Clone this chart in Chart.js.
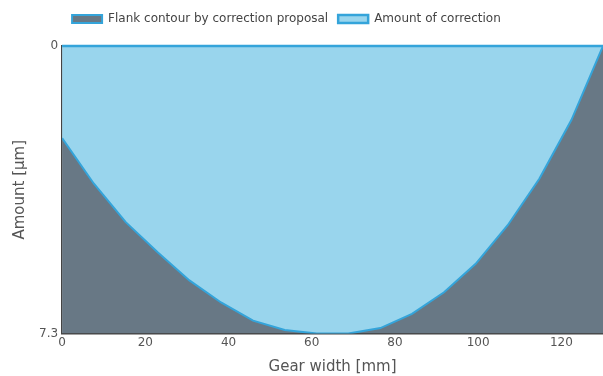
<!DOCTYPE html>
<html>
<head>
<meta charset="utf-8">
<script src="https://cdn.jsdelivr.net/npm/chart.js@4"></script>
<style>
  html, body { margin: 0; padding: 0; background: #fff; }
  #wrap { width: 603px; height: 376px; }
</style>
</head>
<body>
<div id="wrap"><canvas id="c"></canvas></div>
<script>
// gear width positions [mm]
const gearWidth = [0, 7.6, 15.3, 22.9, 30.6, 38.2, 45.9, 53.5, 61.2, 68.8, 76.5, 84.1, 91.8, 99.4, 107.1, 114.7, 122.4, 130];
// flank contour by correction proposal [µm]
const flankContour = [2.34, 3.49, 4.47, 5.23, 5.95, 6.51, 6.97, 7.21, 7.3, 7.3, 7.16, 6.8, 6.25, 5.53, 4.55, 3.37, 1.88, 0];
// zero reference line
const zeroLine = [0, 0, 0, 0, 0, 0, 0, 0, 0, 0, 0, 0, 0, 0, 0, 0, 0, 0];
const yTicks = [0, 7.3];
const xTicks = [0, 20, 40, 60, 80, 100, 120];

const lineBlue = 'rgb(52, 164, 218)';
const greyFill = 'rgb(104, 120, 133)';
const lightBlue = 'rgb(153, 213, 237)';

Chart.defaults.font.family = '"DejaVu Sans", Verdana, sans-serif';
Chart.defaults.color = '#555';

// extra space under the legend
const legendGap = {
    id: 'legendGap',
    beforeInit(chart) {
        const fit = chart.legend.fit;
        chart.legend.fit = function () {
            fit.bind(chart.legend)();
            this.height += 11;
        };
    }
};

new Chart(document.getElementById('c'), {
    type: 'line',
    data: {
        datasets: [{
            label: 'Flank contour by correction proposal',
            data: gearWidth.map((x, i) => ({ x: x, y: flankContour[i] })),
            borderColor: lineBlue,
            backgroundColor: greyFill,
            borderWidth: 2,
            pointRadius: 0,
            fill: { value: 7.3 }
        }, {
            label: 'Amount of correction',
            data: gearWidth.map((x, i) => ({ x: x, y: zeroLine[i] })),
            borderColor: lineBlue,
            backgroundColor: lightBlue,
            borderWidth: 2.5,
            pointRadius: 0,
            clip: 3,
            fill: '-1'
        }]
    },
    options: {
        responsive: true,
        maintainAspectRatio: false,
        animation: false,
        layout: { padding: { left: 7, right: 0, top: 3, bottom: 0 } },
        plugins: {
            legend: {
                position: 'top',
                align: 'start',
                fullSize: false,
                labels: {
                    boxWidth: 30,
                    boxHeight: 8,
                    padding: 10,
                    color: '#444',
                    font: { size: 12 }
                }
            },
            tooltip: { enabled: false }
        },
        scales: {
            x: {
                type: 'linear',
                min: 0,
                max: 130,
                afterBuildTicks: (axis) => { axis.ticks = xTicks.map(v => ({ value: v })); },
                grid: { color: 'rgba(0,0,0,0.07)', drawTicks: false },
                border: { color: '#444', width: 1.5 },
                ticks: { padding: 2, color: '#555', font: { size: 12 } },
                title: { display: true, text: 'Gear width [mm]', color: '#555', font: { size: 15 }, padding: { top: 6, bottom: 0 } }
            },
            y: {
                reverse: true,
                min: 0,
                max: 7.3,
                afterBuildTicks: (axis) => { axis.ticks = yTicks.map(v => ({ value: v })); },
                grid: { display: false, drawTicks: false },
                border: { color: '#444', width: 1.5 },
                ticks: { padding: 4, color: '#555', font: { size: 12 } },
                title: { display: true, text: 'Amount [µm]', color: '#555', font: { size: 15 }, padding: { bottom: 6 } }
            }
        }
    },
    plugins: [legendGap]
});
</script>
</body>
</html>
